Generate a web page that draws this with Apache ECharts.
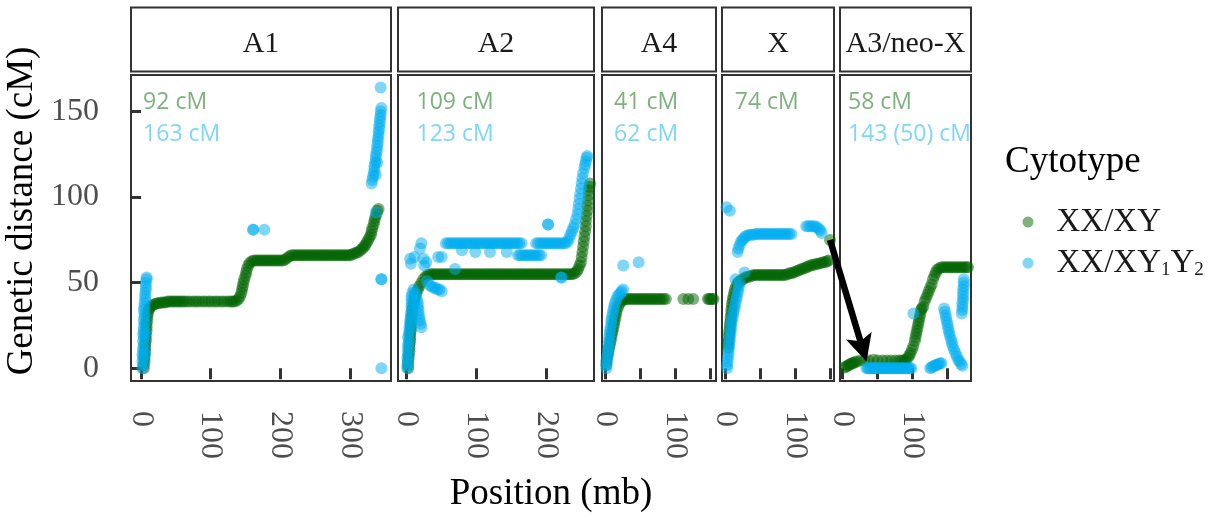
<!DOCTYPE html>
<html><head><meta charset="utf-8">
<script src="https://cdn.jsdelivr.net/npm/echarts@6/dist/echarts.min.js"></script>
<style>html,body{margin:0;padding:0;background:#fff}#c{width:1221px;height:522px}</style>
</head><body><div id="c"></div>
<script>
// ---------- data ----------
const panels = ['A1', 'A2', 'A4', 'X', 'A3/neo-X'];
const cytotypes = ['XX/XY', 'XX/XY1Y2'];
const xxyTotals = ['92 cM', '109 cM', '41 cM', '74 cM', '58 cM'];
const xy1y2Totals = ['163 cM', '123 cM', '62 cM', '', '143 (50) cM'];
const yTicks = [0, 50, 100, 150];
const xTicks = [[0, 100, 200, 300], [0, 100, 200], [0, 50, 100, 150], [0, 50, 100, 150], [0, 50, 100, 150]];
const xTickLabels = [[0, 100, 200, 300], [0, 100, 200], [0, 100], [0, 100], [0, 100]];

const a1XY = [[4,0],[4,2],[5,4],[5,6],[5,8],[6,10],[6,12],[6,14],[7,16],[7,18],[7,20],[8,22],[8,24],[8,26],[9,28],[9,30],[10,32],[11,34],[12,35],[14,36],
[17,37],[20,37.5],[23,38],[26,38],[29,38.5],[32,38.5],[35,38.5],[38,39],[41,39],[44,39],[47,39],[50,39],[53,39],[56,39],[59,39],[62,39],[66,39],[70,39],[75,39],[79,39],[83,39],[88,39],[92,39],[97,39],[101,39],[106,39],[110,39],[115,39],[119,39],[124,39],[128,39],[131,39],[134,39],[137,39.5],
[140,40.5],[142,42],[144,44],[145,46],[146,48],[147,50],[148,52],[150,54],[151,56],[152,58],[154,60],[156,61.5],[159,62.5],
[162,63],[165,63],[168,63],[171,63],[174,63],[177,63],[180,63],[183,63],[186,63],[189,63],[192,63],[195,63],[198,63],[201,63],[204,63],
[207,63.5],[210,64.5],[213,65.5],[216,66],[219,66],[222,66],[225,66],[228,66],[231,66],[234,66],[237,66],[240,66],[243,66],[246,66],[249,66],[252,66],[255,66],[258,66],[261,66],[264,66],[267,66],[270,66],[273,66],[276,66],[279,66],[282,66],[285,66],[288,66],[291,66],[294,66],[297,66],[300,66],
[303,66.5],[306,67],[309,67.5],[312,68],[315,69],[318,70],[320,71],[322,72],[324,73.5],[326,75],[328,76.5],[330,78],[331,80],[332,82],[334,84],[335,86],[336,88],[338,90],[339,92],[341,93]];
const a1XY1Y2 = [[2,0],[3,2],[2,4],[3,6],[2,8],[3,10],[3,12],[4,14],[3,16],[4,18],[3,20],[4,22],[4,24],[5,26],[4,28],[5,30],[5,32],[4,34],[5,36],[5,38],[6,40],[6,42],[6,44],[7,46],[7,48],[7,50],[8,52],[8,53],[6,20],[6,8],
[161,81],[161,81],[177,81],
[337,91],[331,108],[332,110],[333,112],[334,114],[335,116],[335,118],[336,120],[337,122],[337,124],[338,126],[339,128],[339,130],[340,132],[340,134],[341,136],[341,138],[342,140],[342,142],[343,144],[343,146],[344,148],[344,150],[345,152],[337,113],[339,120],
[344,164],[345,52],[345,52],[345,0]];

const a2XY = [[3,0],[3,2],[3,4],[4,6],[4,8],[5,10],[5,12],[5,14],[6,16],[6,18],[6,20],[7,22],[7,24],[7,26],[8,28],[8,30],[9,32],[9,34],[10,36],[11,38],[12,40],[13,42],[15,44],[17,46],[19,48],[22,50],[25,52],[28,53.5],[31,54.5],[34,55],
[37,55],[40,55],[43,55],[46,55],[49,55],[52,55],[55,55],[58,55],[61,55],[64,55],[67,55],[70,55],[73,55],[76,55],[79,55],[82,55],[85,55],[88,55],[91,55],[94,55],[97,55],[100,55],[103,55],[106,55],[109,55],[112,55],[115,55],[118,55],[121,55],[124,55],[127,55],[130,55],[133,55],[136,55],[139,55],[142,55],[145,55],[148,55],[151,55],[154,55],[157,55],[160,55],[163,55],[166,55],[169,55],[172,55],[175,55],[178,55],[181,55],[184,55],[187,55],[190,55],[193,55],[196,55],[199,55],[202,55],[205,55],[208,55],[211,55],[214,55],[217,55],[220,55],[223,55],[226,55],[229,55],[232,55],[235,55],[238,55],
[241,55.5],[244,56.5],[246,58],[248,60],[250,62],[251,65],[252,68],[253,71],[254,74],[255,77],[256,80],[257,83],[257,86],[258,89],[259,92],[259,95],[260,98],[261,101],[261,104],[262,106],[263,108]];
const a2XY1Y2 = [[2,0],[2,2],[3,4],[2,6],[3,8],[3,10],[3,12],[3,14],[4,16],[3,18],[4,20],[5,22],[5,24],[6,26],[6,28],[7,30],[7,32],[8,34],[8,36],[8,38],[8,40],[8,42],[9,44],[11,46],[13,44],[14,42],[16,40],[17,38],[17,36],[18,34],[18,32],[19,30],[20,28],[21,26],[22,24],
[6,64],[7,61],[12,65],[20,70],[22,73],[29,62],[26,60],[25,64],[30,51],[33,49],[36,48],[39,47],[42,47],[45,46],[48,46],[51,45],[46,65],[51,65],[70,58],
[57,73],[60,73],[63,73],[66,73],[69,73],[72,73],[75,73],[78,73],[81,73],[84,73],[87,73],[90,73],[93,73],[96,73],[99,73],[102,73],[105,73],[108,73],[111,73],[114,73],[117,73],[120,73],[123,73],[126,73],[129,73],[132,73],[135,73],[138,73],[141,73],[144,73],[147,73],[150,73],[153,73],[156,73],[159,73],[162,73],[165,73],
[99,68],[120,68],[144,68],[80,69],
[160,66],[163,66],[166,66],[169,66],[172,66],[175,66],[178,66],[181,66],[184,66],[187,66],[190,66],[193,66],
[186,73],[189,73],[192,73],[195,73],[198,73],[201,73],[204,73],[207,73],[210,73],[213,73],[216,73],[219,73],[222,73],[225,73],[228,73],[231,74],
[203,84],[203,84],[222,53],[222,53],
[233,76],[235,78],[237,80],[239,82],[241,84],[243,87],[245,90],[246,93],[247,96],[248,99],[249,102],[250,105],[251,108],[252,111],[253,114],[255,117],[256,119],[257,121],[258,123],[259,124]];

const a4XY = [[1,2],[1,4],[2,6],[3,8],[4,10],[5,12],[6,14],[7,16],[8,18],[9,20],[10,22],[11,24],[12,26],[13,28],[14,30],[15,32],[16,34],[18,36],[20,38],[23,39.5],[26,40],[29,40.5],[32,40.5],[35,40.5],[38,40.5],[41,40.5],[44,40.5],[47,40.5],[50,40.5],[53,40.5],[56,40.5],[59,40.5],[62,40.5],[65,40.5],[68,40.5],[71,40.5],[74,40.5],[77,40.5],[80,40.5],[83,40.5],[86,40.5],[111,40.5],[118,40.5],[125,40.5],[146,40.5],[148,40.5],[150,40.5],[152,40.5],[154,40.5]];
const a4XY1Y2 = [[1,0],[1,2],[2,4],[2,6],[3,8],[3,10],[4,12],[4,14],[5,16],[5,18],[6,20],[6,22],[7,24],[8,26],[8,28],[9,30],[10,32],[11,34],[12,36],[13,38],[15,40],[17,42],[19,43],[21,44],[23,45],[25,46],[25,60],[47,62]];

const xXY = [[3,12],[3,14],[4,16],[4,18],[5,20],[5,22],[6,24],[6,26],[7,28],[7,30],[8,32],[8,34],[9,36],[9,38],[10,40],[11,42],[12,44],[13,46],[15,48],[17,49.5],[19,50.5],[22,51.5],[25,52],[28,53],[31,53.5],[34,53.5],[37,54],[40,54.5],[43,54.5],[46,54.5],[49,54.5],[52,54.5],[55,54.5],[58,54.5],[61,54.5],[64,54.5],[67,54.5],[70,54.5],[73,54.5],[76,54.5],[79,54.5],[82,54.5],[85,54.5],[88,55],[91,55.5],[94,55.5],[97,56],[100,56.5],[103,57],[106,57.5],[109,58],[112,58.5],[115,59],[118,59.5],[121,60],[124,60.5],[127,60.5],[130,61],[133,61],[136,61.5],[139,62],[142,62],[145,62.5],[147,63],[149,75]];
const xXY1Y2 = [[2,0],[2,2],[3,4],[3,6],[4,8],[4,10],[5,12],[5,14],[6,16],[6,18],[7,20],[7,22],[8,24],[8,26],[9,28],[10,30],[11,32],[12,34],[13,36],[14,38],[15,40],[16,42],[17,44],[18,46],[19,48],[20,50],[27,56],[14,52],
[1,94],[6,92],[17,68],[18,70],[20,72],[22,74],[24,75],[26,76],[28,77],[31,77.5],[34,78],[37,78],[40,78],[43,78.5],[46,78.5],[49,78.5],[52,78.5],[55,78.5],[58,78.5],[61,78.5],[64,78.5],[67,78.5],[70,78.5],[73,78.5],[76,78.5],[79,78.5],[82,78.5],[85,78.5],[88,78.5],[91,78.5],[94,78.5],
[115,83],[118,83],[121,83],[124,83],[127,83],[130,82.5],[133,81.5],[135,80.5],[137,79]];

const a3XY = [[3,0.5],[5,1],[7,1.5],[9,2],[11,2.5],[13,3],[15,3],[17,3.5],[20,4],[25,4.5],[31,4.5],[37,4.5],[44,5],[50,4.5],[57,4.5],[63,4.5],[69,4.5],[75,4.5],[80,4.5],[84,4.5],[87,4.5],[90,5],[93,6],[95,7.5],[97,9],[99,11],[101,13],[103,16],[104,18],[105,20],[106,22],[107,24],[108,26],[109,28],[110,30],[111,32],[112,34],[113,35],[115,36],[117,39],[119,41],[121,43],[123,45],[125,47],[127,49],[129,52],[131,54],[133,56],[135,57.5],[138,58.5],[141,59],[144,59],[147,59],[150,59],[153,59],[156,59],[159,59],[162,59],[165,59],[168,59],[171,59],[174,59],[177,59],[179,59]];
const a3XY1Y2 = [[34,0],[36,0],[38,0],[40,0],[42,0],[44,0],[46,0],[48,0],[50,0],[52,0],[54,0],[56,0],[58,0],[60,0],[62,0],[64,0],[66,0],[68,0],[70,0],[72,0],[74,0],[76,0],[78,0],[80,0],[82,0],[84,0],[86,0],[88,0],[90,0],[92,0],[94,0],[96,0],[98,0],[101,32],
[125,0],[127,0.5],[129,1],[131,1.5],[133,2],[135,2],[137,2.5],[139,3],[141,3],
[145,35],[146,33],[147,31],[148,29],[149,27],[150,25],[151,23],[152,21],[153,19],[155,17],[156,15],[157,13],[159,11],[161,9],[163,7],[165,5],[167,4],[169,2.5],[171,1.5],
[170,32],[171,34],[171,36],[171,38],[172,40],[172,42],[172,44],[172,46],[173,48],[173,50],[173,52]];

const xxyData = [a1XY, a2XY, a4XY, xXY, a3XY];
const xy1y2Data = [a1XY1Y2, a2XY1Y2, a4XY1Y2, xXY1Y2, a3XY1Y2];

// arrow: from the X-panel XX/XY end to the A3/neo-X panel (data coords)
const arrowFrom = { panel: 3, value: [149, 75] };
const arrowTo = { panel: 4, value: [34, 4] };

// ---------- layout / style ----------
const PL = [131, 398, 602, 722, 840];
const PR = [391, 594, 716, 834, 971];
const PT = 75, PB = 381;
const XMIN = [-14.4, -11.4, -5.3, -5.3, -3.9];
const XMAX = [358.8, 268.6, 157.6, 154.7, 183.3];
const YMIN = -7.4, YMAX = 171.3;
const annX = [3, 15, 12, 13, 7.5];
const annYg = 155.5, annYb = 136.5;
const GREEN = '#006400', BLUE = '#00AEEF';
const GREEN_L = '#7fb17f', BLUE_L = '#7fd6f7';
const SERIF = '"Liberation Serif", "Times New Roman", serif';
const SANS = '"Open Sans", "Noto Sans", sans-serif';
const DOT = 12;

const chart = echarts.init(document.getElementById('c'), null, { renderer: 'canvas' });

const grids = [], xAxes = [], yAxes = [], series = [];
panels.forEach((p, i) => {
  grids.push({ left: PL[i], width: PR[i] - PL[i], top: PT, height: PB - PT, show: true,
    borderColor: '#333', borderWidth: 2, backgroundColor: '#fff', containLabel: false, outerBoundsMode: 'none' });
  xAxes.push({ gridIndex: i, type: 'value', min: XMIN[i], max: XMAX[i],
    axisLine: { show: false }, splitLine: { show: false },
    axisTick: { show: true, length: 11, lineStyle: { color: '#333', width: 3 }, customValues: xTicks[i] },
    axisLabel: { customValues: xTickLabels[i], rotate: -90, margin: 30, fontFamily: SERIF, fontSize: 32, color: '#4d4d4d' } });
  yAxes.push({ gridIndex: i, type: 'value', min: YMIN, max: YMAX,
    axisLine: { show: false }, splitLine: { show: false },
    axisTick: i === 0 ? { show: true, length: 11, lineStyle: { color: '#333', width: 3 }, customValues: yTicks } : { show: false },
    axisLabel: i === 0 ? { customValues: yTicks, margin: 32, fontFamily: SERIF, fontSize: 32, color: '#4d4d4d' } : { show: false } });
});
panels.forEach((p, i) => {
  series.push({ type: 'scatter', name: cytotypes[0], xAxisIndex: i, yAxisIndex: i, data: xxyData[i],
    symbolSize: DOT, itemStyle: { color: GREEN, opacity: 0.5 }, silent: true });
});
panels.forEach((p, i) => {
  series.push({ type: 'scatter', name: cytotypes[1], xAxisIndex: i, yAxisIndex: i, data: xy1y2Data[i],
    symbolSize: DOT, itemStyle: { color: BLUE, opacity: 0.5 }, silent: true });
});

chart.setOption({
  animation: false,
  backgroundColor: '#fff',
  grid: grids, xAxis: xAxes, yAxis: yAxes, series: series,
  legend: {
    data: [{ name: cytotypes[0], itemStyle: { color: GREEN_L, opacity: 1 } },
           { name: cytotypes[1], itemStyle: { color: BLUE_L, opacity: 1 } }],
    orient: 'vertical', left: 1022.5, top: 205, padding: 0, itemWidth: 11, itemHeight: 11, itemGap: 7,
    icon: 'circle', selectedMode: false,
    formatter: n => n === 'XX/XY1Y2' ? 'XX/XY{s|1}Y{s|2}' : n,
    textStyle: { fontFamily: SERIF, fontSize: 33, color: '#1a1a1a', lineHeight: 34, padding: [0, 0, 0, 18],
      rich: { s: { fontFamily: SERIF, fontSize: 19, lineHeight: 24, verticalAlign: 'bottom', color: '#1a1a1a' } } }
  }
});

// ---------- strips / annotations / titles / arrow ----------
const g = [];
panels.forEach((p, i) => {
  g.push({ type: 'rect', shape: { x: PL[i], y: 7.5, width: PR[i] - PL[i], height: 64 },
    style: { fill: '#fff', stroke: '#333', lineWidth: 2 }, z: 10 });
  g.push({ type: 'text', x: (PL[i] + PR[i]) / 2, y: 44, z: 11,
    style: { text: p, font: '30px ' + SERIF, fill: '#1a1a1a', align: 'center', verticalAlign: 'middle' } });
  const pg = chart.convertToPixel({ gridIndex: i }, [annX[i], annYg]);
  g.push({ type: 'text', x: pg[0], y: pg[1], z: 11,
    style: { text: xxyTotals[i], font: '23px ' + SANS, fill: GREEN_L, align: 'left', verticalAlign: 'middle' } });
  if (xy1y2Totals[i]) {
    const pb = chart.convertToPixel({ gridIndex: i }, [annX[i], annYb]);
    g.push({ type: 'text', x: pb[0], y: pb[1], z: 11,
      style: { text: xy1y2Totals[i], font: '23px ' + SANS, fill: BLUE_L, align: 'left', verticalAlign: 'middle' } });
  }
});
g.push({ type: 'text', x: (PL[0] + PR[4]) / 2, y: 494, z: 11,
  style: { text: 'Position (mb)', font: '37px ' + SERIF, fill: '#000', align: 'center', verticalAlign: 'middle' } });
g.push({ type: 'text', x: 22, y: 211, rotation: Math.PI / 2, z: 11,
  style: { text: 'Genetic distance (cM)', font: '37px ' + SERIF, fill: '#000', align: 'center', verticalAlign: 'middle' } });
g.push({ type: 'text', x: 1005, y: 162, z: 11,
  style: { text: 'Cytotype', font: '37px ' + SERIF, fill: '#000', align: 'left', verticalAlign: 'middle' } });

const T = chart.convertToPixel({ gridIndex: arrowFrom.panel }, arrowFrom.value);
const P = chart.convertToPixel({ gridIndex: arrowTo.panel }, arrowTo.value);
const dx = P[0] - T[0], dy = P[1] - T[1], L = Math.hypot(dx, dy);
const ux = dx / L, uy = dy / L, px = -uy, py = ux;
const HL = 27, HW = 13.5, NL = 21;
const B = [P[0] - ux * HL, P[1] - uy * HL];
const N = [P[0] - ux * NL, P[1] - uy * NL];
g.push({ type: 'line', z: 20, shape: { x1: T[0], y1: T[1], x2: N[0], y2: N[1] },
  style: { stroke: '#000', lineWidth: 6.5, lineCap: 'butt' } });
g.push({ type: 'polygon', z: 21, shape: { points: [P, [B[0] + px * HW, B[1] + py * HW], N, [B[0] - px * HW, B[1] - py * HW]] },
  style: { fill: '#000' } });

chart.setOption({ graphic: g });
</script>
</body></html>
